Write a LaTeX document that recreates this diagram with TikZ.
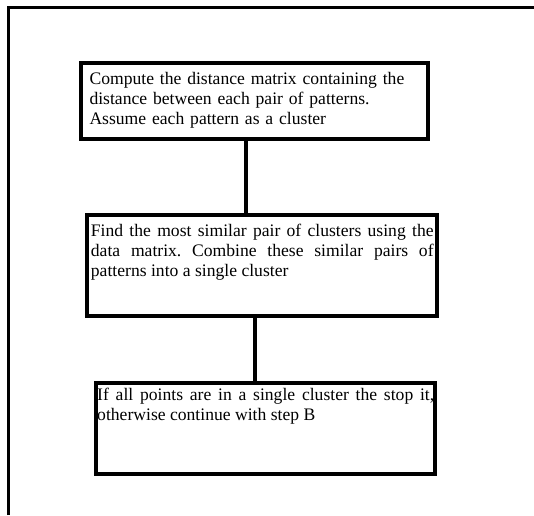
\documentclass[tikz,border=0pt]{standalone}
\usepackage{fontspec}
\setmainfont{Liberation Serif}
\usetikzlibrary{positioning}
\frenchspacing

\begin{document}
\begin{tikzpicture}[
    stepbox/.style={draw, line width=3pt, outer sep=0pt, inner ysep=0pt, font=\fontsize{13.2pt}{15pt}\selectfont},
    link/.style={line width=3pt},
    frame/.style={line width=2.9pt}
]
\useasboundingbox (0,0) rectangle (400.5pt,-386.25pt);

% Outer frame, open to the right and bottom
\draw[frame] (6.4pt,-386.25pt) -- (6.4pt,-5.6pt) -- (400.5pt,-5.6pt);

% Steps
\node[stepbox, anchor=north west, text width=247.1pt, inner xsep=6.4pt, text height=15.75pt, text depth=41.6pt, align=left]
    (s1) at (60.75pt,-47.25pt) {Compute the distance matrix containing the\\distance between each pair of patterns.\\Assume each pattern as a cluster};
\node[stepbox, below=57pt of s1, xshift=6pt, text width=257pt, inner xsep=2.6pt, text height=15.9pt, text depth=59.5pt, align=justify]
    (s2) {Find the most similar pair of clusters using the\linebreak data matrix. Combine these similar pairs of\linebreak patterns into a single cluster};
\node[stepbox, below=50.6pt of s2, xshift=2.6pt, text width=252.75pt, inner xsep=0.6pt, text height=13.1pt, text depth=54.75pt, align=justify]
    (s3) {If all points are in a single cluster the stop it,\linebreak otherwise continue with step B};

% Connectors
\draw[link] ([xshift=-6.2pt]s1.south) -- ([xshift=-6.2pt]s1.south |- s2.north);
\draw[link] ([xshift=-5.4pt]s2.south) -- ([xshift=-5.4pt]s2.south |- s3.north);
\end{tikzpicture}
\end{document}
